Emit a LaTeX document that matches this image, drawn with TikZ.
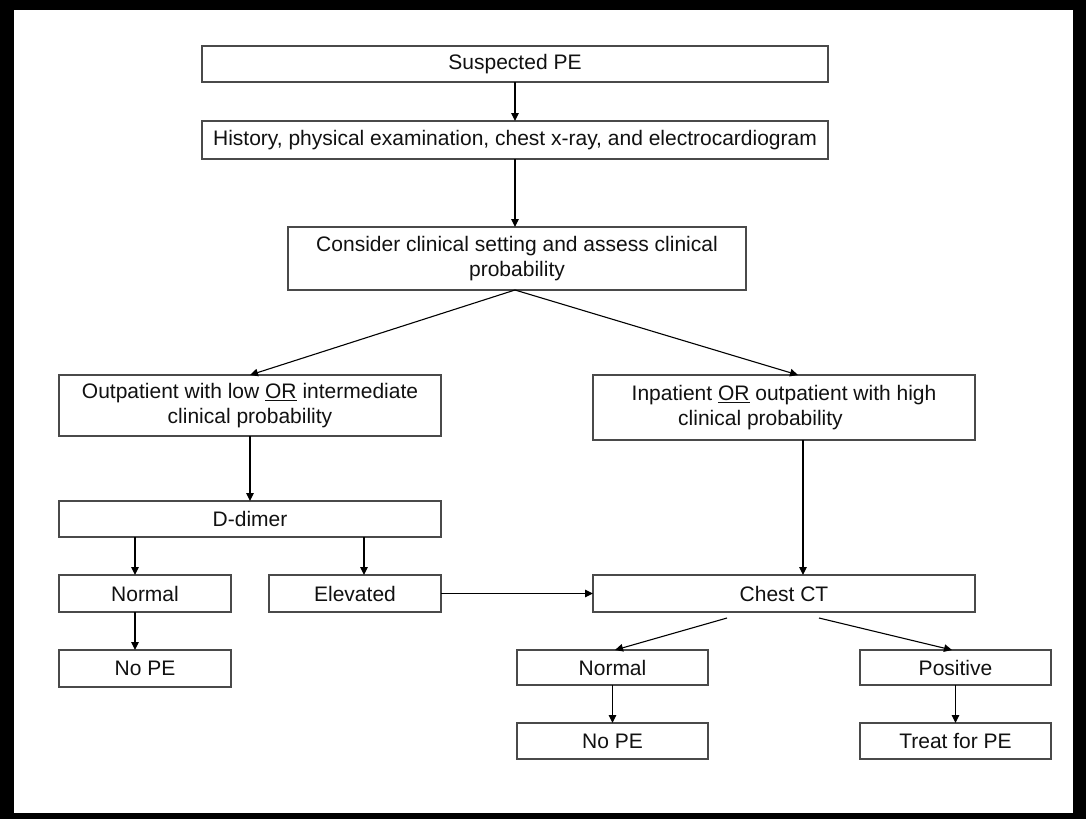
\documentclass[tikz,border=0pt]{standalone}
\usepackage{fontspec}
\setmainfont{Liberation Sans}
\usetikzlibrary{arrows.meta}
\definecolor{boxgray}{HTML}{4A4A4A}
\definecolor{txt}{HTML}{111111}
\begin{document}
\begin{tikzpicture}[x=1pt,y=-1pt,
  box/.style={draw=boxgray, line width=1.5pt, fill=white, inner sep=0pt, outer sep=0pt,
    align=center, font=\fontsize{21}{25}\selectfont, text=txt},
  arr/.style={draw=black, line width=1.1pt, -{Triangle[length=8pt,width=7.5pt]}}]
\fill[black] (0,0) rectangle (1086,819);
\fill[white] (14,10) rectangle (1073,813);
\useasboundingbox (0,0) rectangle (1086,819);
% nodes
\node[box, minimum width=626pt, minimum height=36pt] (sus) at (515,64) {Suspected PE};
\node[box, minimum width=626pt, minimum height=38pt] (hist) at (515,140) {History, physical examination, chest x-ray, and electrocardiogram};
\node[box, minimum width=458pt, minimum height=63pt] (cons) at (517,258.5) {Consider clinical setting and assess clinical\\probability};
\node[box, minimum width=382pt, minimum height=61pt] (outp) at (250,405.5) {Outpatient with low \underline{OR} intermediate\\clinical probability};
\node[box, minimum width=382pt, minimum height=65pt] (inp) at (784,407.5) {Inpatient \underline{OR} outpatient with high\\clinical probability\hspace*{47pt}\mbox{}};
\node[box, minimum width=382pt, minimum height=36pt] (dd) at (250,519) {D-dimer};
\node[box, minimum width=172pt, minimum height=37pt] (normL) at (145,593.5) {Normal};
\node[box, minimum width=172pt, minimum height=37pt] (elev) at (355,593.5) {Elevated};
\node[box, minimum width=382pt, minimum height=37pt] (ct) at (784,593.5) {Chest CT};
\node[box, minimum width=172pt, minimum height=37pt] (nopeL) at (145,668.5) {No PE};
\node[box, minimum width=191pt, minimum height=35pt] (normR) at (612.5,667.5) {Normal};
\node[box, minimum width=191pt, minimum height=35pt] (pos) at (955.5,667.5) {Positive};
\node[box, minimum width=191pt, minimum height=36pt] (nopeR) at (612.5,741) {No PE};
\node[box, minimum width=191pt, minimum height=36pt] (treat) at (955.5,741) {Treat for PE};
% connectors
\draw[arr] (sus.south) -- (hist.north);
\draw[arr] (hist.south) -- (hist.south |- cons.north);
\draw[arr] ([xshift=-2pt]cons.south) -- (outp.north);
\draw[arr] ([xshift=-2pt]cons.south) -- ([xshift=14pt]inp.north);
\draw[arr] (outp.south) -- (dd.north);
\draw[arr] ([xshift=-10pt]normL.north |- dd.south) -- ([xshift=-10pt]normL.north);
\draw[arr] ([xshift=9pt]elev.north |- dd.south) -- ([xshift=9pt]elev.north);
\draw[arr] ([xshift=-10pt]normL.south) -- ([xshift=-10pt]nopeL.north);
\draw[arr] (elev.east) -- (ct.west);
\draw[arr] ([xshift=19pt]inp.south) -- ([xshift=19pt]ct.north);
\draw[arr] ([xshift=-57pt,yshift=-6pt]ct.south) -- ([xshift=2.5pt]normR.north);
\draw[arr] ([xshift=35pt,yshift=-6pt]ct.south) -- ([xshift=-3.5pt]pos.north);
\draw[arr] (normR.south) -- (nopeR.north);
\draw[arr] (pos.south) -- (treat.north);
\end{tikzpicture}
\end{document}
